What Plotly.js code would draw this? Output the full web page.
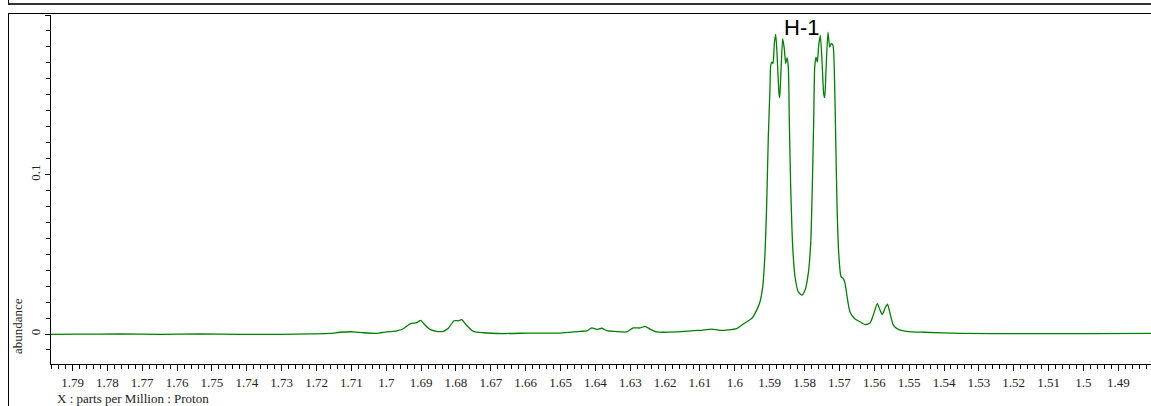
<!DOCTYPE html>
<html>
<head>
<meta charset="utf-8">
<script src="https://cdn.plot.ly/plotly-3.0.1.min.js"></script>
<style>
  html, body { margin: 0; padding: 0; background: #fff; }
  #wrap { position: relative; width: 1151px; height: 406px; overflow: hidden; }
  #chart { position: absolute; left: 0; top: 0; width: 1151px; height: 406px; }
  .frame { position: absolute; pointer-events: none; }
</style>
</head>
<body>
<div id="wrap">
  <div id="chart"></div>
  <div class="frame" style="left:8px;top:0px;width:1143px;height:3px;border-left:1px solid #000;border-bottom:2px solid #333;"></div>
  <div class="frame" style="left:8px;top:13px;width:1143px;height:400px;border-left:1.5px solid #000;border-top:1.5px solid #000;"></div>
</div>
<script>
// chemical shift (ppm)
const ppm = [
  1.79617, 1.78785, 1.77637, 1.76490, 1.75343, 1.74195, 1.73048, 1.72187, 1.71613, 1.71326,
  1.70945, 1.70658, 1.70274, 1.69987, 1.69700, 1.69511, 1.69319, 1.69126, 1.69011, 1.68888,
  1.68745, 1.68552, 1.68363, 1.68220, 1.68056, 1.67933, 1.67835, 1.67692, 1.67503, 1.67216,
  1.66642, 1.65876, 1.65015, 1.64442, 1.64250, 1.64106, 1.63963, 1.63819, 1.63676, 1.63438,
  1.63102, 1.62913, 1.62720, 1.62577, 1.62434, 1.62241, 1.61668, 1.61191, 1.60905, 1.60664,
  1.60426, 1.59947, 1.59757, 1.59516, 1.59373, 1.59278, 1.59201, 1.59135, 1.59086, 1.59040,
  1.58991, 1.58971, 1.58934, 1.58905, 1.58868, 1.58828, 1.58790, 1.58733, 1.58713, 1.58676,
  1.58627, 1.58581, 1.58541, 1.58504, 1.58466, 1.58438, 1.58398, 1.58340, 1.58274, 1.58180,
  1.58082, 1.57987, 1.57893, 1.57824, 1.57778, 1.57738, 1.57709, 1.57672, 1.57635, 1.57594,
  1.57548, 1.57500, 1.57451, 1.57422, 1.57385, 1.57328, 1.57279, 1.57233, 1.57184, 1.57147,
  1.57107, 1.57070, 1.57020, 1.56954, 1.56889, 1.56840, 1.56783, 1.56697, 1.56553, 1.56410,
  1.56266, 1.56123, 1.56028, 1.55913, 1.55836, 1.55770, 1.55693, 1.55621, 1.55549, 1.55454,
  1.55311, 1.55070, 1.54594, 1.53541, 1.51628, 1.49717, 1.48062
];
// abundance
const abundance = [
  -0.0002, -0.0001, 0.0000, -0.0002, 0.0000, -0.0002, -0.0002, 0.0001, 0.0004, 0.0011,
  0.0014, 0.0008, 0.0004, 0.0013, 0.0019, 0.0033, 0.0064, 0.0071, 0.0086, 0.0056,
  0.0029, 0.0017, 0.0017, 0.0036, 0.0083, 0.0083, 0.0090, 0.0054, 0.0017, 0.0008,
  0.0003, 0.0006, 0.0006, 0.0017, 0.0019, 0.0039, 0.0029, 0.0036, 0.0021, 0.0016,
  0.0013, 0.0038, 0.0038, 0.0048, 0.0031, 0.0013, 0.0013, 0.0021, 0.0025, 0.0031,
  0.0023, 0.0034, 0.0063, 0.0098, 0.0150, 0.0202, 0.0296, 0.0505, 0.0818, 0.1235,
  0.1548, 0.1684, 0.1705, 0.1695, 0.1820, 0.1878, 0.1757, 0.1507, 0.1482, 0.1653,
  0.1851, 0.1788, 0.1695, 0.1732, 0.1673, 0.1340, 0.0922, 0.0546, 0.0359, 0.0265,
  0.0244, 0.0275, 0.0380, 0.0568, 0.0922, 0.1340, 0.1673, 0.1736, 0.1705, 0.1809,
  0.1872, 0.1715, 0.1507, 0.1482, 0.1653, 0.1892, 0.1799, 0.1822, 0.1809, 0.1653,
  0.1235, 0.0818, 0.0505, 0.0360, 0.0347, 0.0319, 0.0238, 0.0138, 0.0094, 0.0077,
  0.0059, 0.0069, 0.0119, 0.0191, 0.0150, 0.0122, 0.0161, 0.0188, 0.0130, 0.0056,
  0.0029, 0.0017, 0.0011, 0.0004, 0.0002, 0.0002, 0.0004
];
const yTickVals = [0, 0.1, 0.2];
const yTickText = ['0', '0.1', ''];
const peakLabel = 'H-1';
const peakLabelPpm = 1.58082;
const xTitle = 'X : parts per Million : Proton';
const yTitle = 'abundance';

const serif = 'Liberation Serif, Times New Roman, serif';

const trace = {
  x: ppm,
  y: abundance,
  type: 'scatter',
  mode: 'lines',
  line: { color: 'rgb(0,128,0)', width: 1.3, shape: 'spline', smoothing: 0.6 },
  hoverinfo: 'x+y'
};

const layout = {
  width: 1151,
  height: 406,
  margin: { l: 51, r: 0, t: 15, b: 42, pad: 0 },
  paper_bgcolor: 'rgba(0,0,0,0)',
  plot_bgcolor: 'rgba(0,0,0,0)',
  showlegend: false,
  xaxis: {
    range: [1.79617, 1.48062],
    dtick: 0.01,
    tick0: 0,
    ticks: 'outside',
    ticklen: 6,
    tickwidth: 1,
    tickcolor: '#000',
    showline: true,
    linecolor: '#000',
    linewidth: 1,
    showgrid: false,
    zeroline: false,
    tickfont: { family: serif, size: 13, color: '#222' },
    minor: { dtick: 0.002, ticks: 'outside', ticklen: 3.5, tickcolor: '#000', tickwidth: 1, showgrid: false }
  },
  yaxis: {
    range: [-0.0188, 0.2],
    tickmode: 'array',
    tickvals: yTickVals,
    ticktext: yTickText,
    tickangle: -90,
    ticks: 'outside',
    ticklen: 5,
    tickwidth: 1,
    tickcolor: '#000',
    showline: true,
    linecolor: '#000',
    linewidth: 1,
    showgrid: false,
    zeroline: false,
    tickfont: { family: serif, size: 13, color: '#222' },
    minor: { dtick: 0.01, tick0: 0, ticks: 'outside', ticklen: 4, tickcolor: '#000', tickwidth: 1, showgrid: false }
  },
  annotations: [
    {
      text: peakLabel, x: peakLabelPpm, xref: 'x', y: 0.963, yref: 'paper',
      xanchor: 'center', yanchor: 'middle', showarrow: false,
      font: { family: 'Liberation Sans, Arial, sans-serif', size: 22, color: '#000' }
    },
    {
      text: yTitle, x: -0.030, xref: 'paper', y: 0.109, yref: 'paper',
      xanchor: 'center', yanchor: 'middle', textangle: -90, showarrow: false,
      font: { family: serif, size: 13, color: '#222' }
    },
    {
      text: xTitle, x: 0.0035, xref: 'paper', y: -0.098, yref: 'paper',
      xanchor: 'left', yanchor: 'middle', showarrow: false,
      font: { family: serif, size: 13, color: '#222' }
    }
  ]
};

Plotly.newPlot('chart', [trace], layout, { displayModeBar: false, staticPlot: true });
</script>
</body>
</html>
